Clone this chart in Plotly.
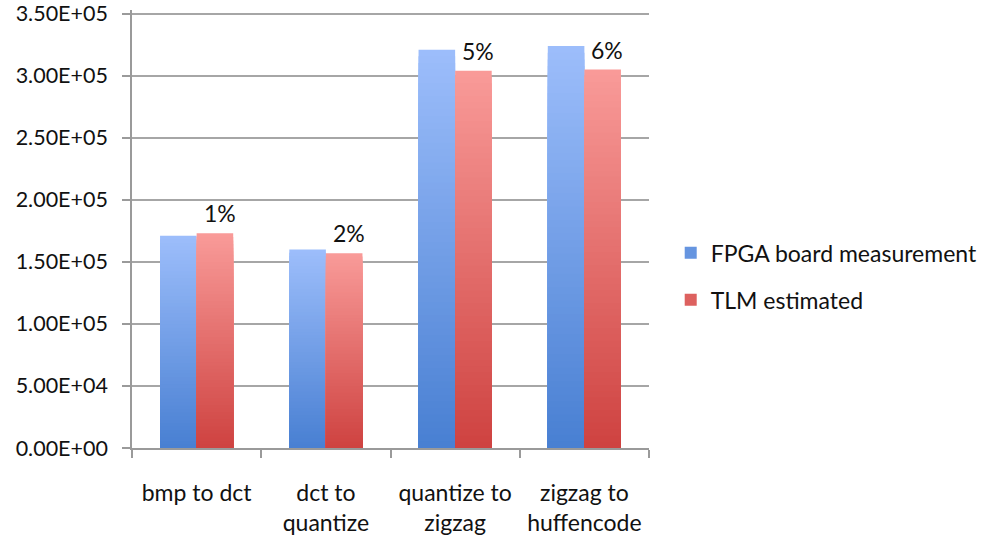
import plotly.graph_objects as go

# Data
categories = ["bmp to dct", "dct to<br>quantize", "quantize to<br>zigzag", "zigzag to<br>huffencode"]
fpga_board = [1.71e5, 1.60e5, 3.21e5, 3.24e5]
tlm_estimated = [1.73e5, 1.57e5, 3.04e5, 3.05e5]
diff_labels = ["1%", "2%", "5%", "6%"]
y_ticks = [0, 5e4, 1e5, 1.5e5, 2e5, 2.5e5, 3e5, 3.5e5]

FONT = "Lato, 'Open Sans', sans-serif"
N_STEPS = 60

# gradient end colours (top -> bottom)
BLUE_TOP, BLUE_BOTTOM = (157, 190, 251), (72, 127, 210)
RED_TOP, RED_BOTTOM = (249, 155, 153), (206, 66, 64)


def mix(c_top, c_bottom, t):
    """t=1 at top of the bar, t=0 at the bottom."""
    return "rgb({},{},{})".format(*[round(b + (a - b) * t) for a, b in zip(c_top, c_bottom)])


fig = go.Figure()


def add_gradient_bars(values, group, c_top, c_bottom, name):
    # overlapping bars of decreasing height, each a step darker, give a vertical gradient
    for k in range(N_STEPS):
        frac = (N_STEPS - k) / N_STEPS
        fig.add_trace(go.Bar(
            x=categories,
            y=[v * frac for v in values],
            offsetgroup=group,
            marker=dict(color=mix(c_top, c_bottom, frac - 0.5 / N_STEPS), line=dict(width=0)),
            showlegend=False,
            hoverinfo="skip",
        ))
    # legend entry
    fig.add_trace(go.Bar(
        x=[categories[0]], y=[None], offsetgroup=group, name=name,
        legendgroup=group,
        marker=dict(color=mix(c_top, c_bottom, 0.35), line=dict(width=0)),
    ))


add_gradient_bars(fpga_board, "fpga", BLUE_TOP, BLUE_BOTTOM, "FPGA board measurement")
add_gradient_bars(tlm_estimated, "tlm", RED_TOP, RED_BOTTOM, "TLM estimated")

for cat, val, lab in zip(categories, tlm_estimated, diff_labels):
    fig.add_annotation(
        x=cat, y=val, text=lab, showarrow=False,
        xshift=23, yshift=20, yanchor="middle",
        font=dict(family=FONT, size=23, color="#111111"),
    )

fig.update_layout(
    width=984, height=536,
    margin=dict(l=132, r=335, t=10, b=88, autoexpand=False),
    paper_bgcolor="white", plot_bgcolor="white",
    barmode="group", bargap=0.434, bargroupgap=0,
    font=dict(family=FONT, size=23, color="#111111"),
    legend=dict(
        x=1.042, xanchor="left", y=0.392, yanchor="middle",
        traceorder="grouped", tracegroupgap=14,
        font=dict(family=FONT, size=23, color="#111111"),
        bgcolor="rgba(0,0,0,0)",
    ),
    xaxis=dict(
        showline=True, linecolor="#9a9a9a", linewidth=1.5,
        ticks="outside", tickson="boundaries", ticklen=8, tickcolor="#9a9a9a", tickwidth=1.5,
        showgrid=False, ticklabelstandoff=24, automargin=False,
        tickfont=dict(family=FONT, size=23, color="#111111"),
    ),
    yaxis=dict(
        range=[0, 3.53e5],
        tickvals=y_ticks, ticktext=[f"{v:.2E}" for v in y_ticks],
        showline=True, linecolor="#9a9a9a", linewidth=1.5,
        ticks="outside", ticklen=8, tickcolor="#9a9a9a", tickwidth=1.5,
        showgrid=True, gridcolor="#a6a6a6", gridwidth=1.5,
        zeroline=False, ticklabelstandoff=10, automargin=False,
        ticklabeloverflow="allow",
        tickfont=dict(family=FONT, size=21.5, color="#111111"),
    ),
)

fig.write_html("out.html")
